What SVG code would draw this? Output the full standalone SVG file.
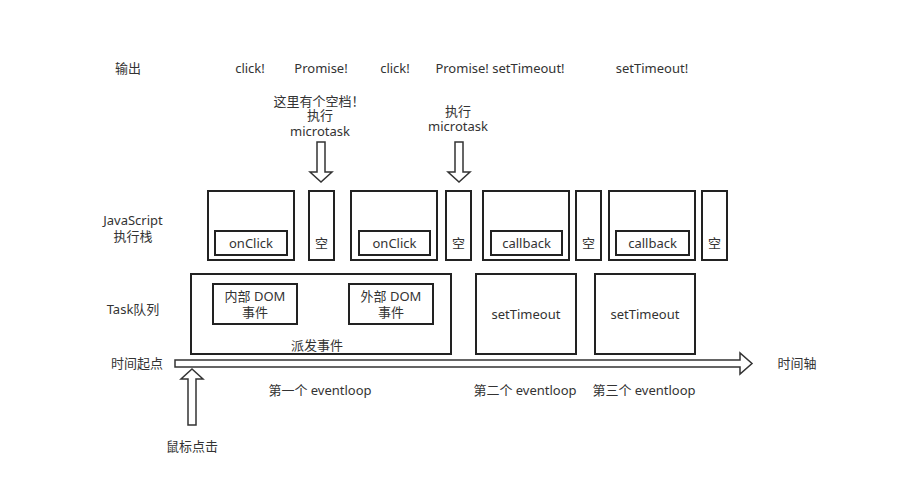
<svg xmlns="http://www.w3.org/2000/svg" width="910" height="497" viewBox="0 0 910 497">
<style>
text{font-family:"Noto Sans","Noto Sans CJK SC",sans-serif;font-size:13px;fill:#333;text-anchor:middle}
.box{fill:#fff;stroke:#222;stroke-width:2}
.arr{fill:#fff;stroke:#333;stroke-width:1.5;stroke-linejoin:miter}
</style>
<rect width="910" height="497" fill="#fff"/>
<g id="labels">
<text x="128" y="73">输出</text>
<text x="133" y="225">JavaScript</text>
<text x="133" y="241">执行栈</text>
<text x="133" y="314">Task队列</text>
<text x="137" y="368">时间起点</text>
<text x="797" y="368">时间轴</text>
<text x="192" y="451">鼠标点击</text>
<text x="320" y="395">第一个 eventloop</text>
<text x="525" y="395">第二个 eventloop</text>
<text x="644" y="395">第三个 eventloop</text>
</g>
<g id="outputs">
<text x="250" y="73">click!</text>
<text x="321" y="73">Promise!</text>
<text x="395" y="73">click!</text>
<text x="500" y="73">Promise! setTimeout!</text>
<text x="652" y="73">setTimeout!</text>
<text x="319" y="106">这里有个空档！</text>
<text x="320" y="120">执行</text>
<text x="320" y="136">microtask</text>
<text x="458" y="116">执行</text>
<text x="458" y="131">microtask</text>
</g>
<g id="stack1"><rect class="box" x="208" y="191" width="86" height="69"/><rect class="box" x="215" y="231" width="72" height="24"/><text x="251" y="248">onClick</text></g>
<g id="empty1"><rect class="box" x="309" y="191" width="25" height="69"/><text x="321.5" y="248">空</text></g>
<g id="stack2"><rect class="box" x="351" y="191" width="86" height="69"/><rect class="box" x="359" y="231" width="71" height="24"/><text x="394.5" y="248">onClick</text></g>
<g id="empty2"><rect class="box" x="446" y="191" width="25" height="69"/><text x="458.5" y="248">空</text></g>
<g id="stack3"><rect class="box" x="483" y="191" width="86" height="69"/><rect class="box" x="491" y="231" width="71" height="24"/><text x="526.5" y="248">callback</text></g>
<g id="empty3"><rect class="box" x="576" y="191" width="25" height="69"/><text x="588.5" y="248">空</text></g>
<g id="stack4"><rect class="box" x="609" y="191" width="86" height="69"/><rect class="box" x="616" y="231" width="73" height="24"/><text x="652.5" y="248">callback</text></g>
<g id="empty4"><rect class="box" x="702" y="191" width="25" height="69"/><text x="714.5" y="248">空</text></g>
<g id="task1"><rect class="box" x="191" y="274" width="260" height="80"/><text x="317" y="350">派发事件</text>
<rect class="box" x="213" y="284" width="84" height="40"/><text x="255" y="301">内部 DOM</text><text x="255" y="317">事件</text>
<rect class="box" x="349" y="284" width="84" height="40"/><text x="391" y="301">外部 DOM</text><text x="391" y="317">事件</text></g>
<g id="task2"><rect class="box" x="476" y="274" width="100" height="80"/><text x="526" y="319">setTimeout</text></g>
<g id="task3"><rect class="box" x="595" y="274" width="100" height="80"/><text x="645" y="319">setTimeout</text></g>
<g id="connectors">
<polygon class="arr" points="175,360 740,360 740,353 752,363.5 740,374 740,367 175,367"/>
<polygon class="arr" points="192,369 203,379 196,379 196,425 188,425 188,379 181,379"/>
<polygon class="arr" points="317,142 325,142 325,172 332,172 321,182 310,172 317,172"/>
<polygon class="arr" points="455,142 463,142 463,172 470,172 459,182 448,172 455,172"/>
</g>
</svg>
